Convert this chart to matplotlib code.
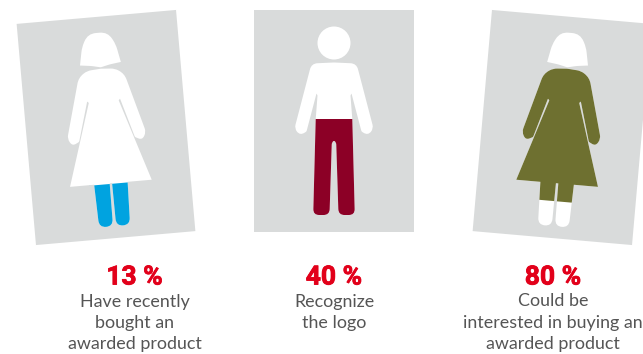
import numpy as np
import matplotlib
matplotlib.use("Agg")
import matplotlib.pyplot as plt
import matplotlib.patheffects as pe
from matplotlib.path import Path
from matplotlib.patches import PathPatch, Rectangle, Circle
from matplotlib.transforms import Affine2D

percents = ["13 %", "40 %", "80 %"]
captions = [
    "Have recently\nbought an\nawarded product",
    "Recognize\nthe logo",
    "Could be\ninterested in buying an\nawarded product",
]
fill_colors = ["#00A3E0", "#8C0026", "#6E7030"]
figures = ["woman", "man", "woman"]
# filled band of each figure: top, bottom and half width in panel units
fill_bands = [(56.6, 110, 22), (-1.2, 110, 23), (-60, 74, 70)]

panel_centers = [(106, 127.5), (334, 120.5), (562, 127.5)]
panel_angles = [-5, 0, 5]
caption_x = [134.5, 334, 553]

PANEL_W, PANEL_H = 160, 222
GREY = "#D9DBDB"
RED = "#E2001A"
TEXT = "#555555"


def rounded(points):
    # points are (x, y, corner radius), closed polygon with quadratic corners
    verts, codes = [], []
    n = len(points)
    for i, (x, y, r) in enumerate(points):
        p = np.array([x, y], float)
        prev = np.array(points[i - 1][:2], float)
        nxt = np.array(points[(i + 1) % n][:2], float)
        if r > 0:
            a = p + (prev - p) / np.linalg.norm(prev - p) * r
            b = p + (nxt - p) / np.linalg.norm(nxt - p) * r
            verts += [a, p, b]
            codes += [Path.LINETO, Path.CURVE3, Path.CURVE3]
        else:
            verts.append(p)
            codes.append(Path.LINETO)
    codes[0] = Path.MOVETO
    verts.append(verts[0])
    codes.append(Path.CLOSEPOLY)
    return Path(verts, codes)


def mirror(points):
    return points + [(-x, y, r) for x, y, r in reversed(points)]


# right half of each outline, from the neck down and back up the middle
woman_body = rounded(mirror([
    (0.5, -59, 0), (14, -58, 4), (23, -52, 6), (39.5, 8, 4), (35, 15.5, 4), (28, 12, 1),
    (16.5, -27.5, 0.3), (15, -26, 0.3), (41, 56, 0), (16.8, 56, 0), (15.5, 99, 7),
    (1.6, 99, 7), (1.2, 56, 0), (0.5, 56, 0),
]))
hair = rounded(mirror([
    (0.5, -60.5, 0), (9, -62.5, 2), (20.5, -64, 0), (17, -82, 5), (10, -95, 8), (0.5, -95, 0),
]))
man_body = rounded(mirror([
    (0.5, -58, 0), (22.5, -57, 6), (39.5, 8, 4), (34, 15, 5), (27.5, 11, 1),
    (17.5, -27, 0.3), (16.5, -25, 0.3), (18.3, -1.2, 0), (20.8, 94.5, 6), (4.5, 94.5, 6),
    (2.2, 22, 2), (0.5, 20.5, 0),
]))

fig = plt.figure(figsize=(6.43, 3.54), dpi=100)
ax = fig.add_axes([0, 0, 1, 1])
ax.set_xlim(0, 643)
ax.set_ylim(354, 0)
ax.axis("off")

for i in range(3):
    cx, cy = panel_centers[i]
    tr = Affine2D().rotate_deg(panel_angles[i]).translate(cx, cy) + ax.transData
    ax.add_patch(Rectangle((-PANEL_W / 2, -PANEL_H / 2), PANEL_W, PANEL_H,
                           fc=GREY, ec="none", transform=tr))

    if figures[i] == "woman":
        body = woman_body
        ax.add_patch(PathPatch(hair, fc="white", ec="none", transform=tr))
    else:
        body = man_body
        ax.add_patch(Circle((0, -77.5), 16.5, fc="white", ec="none", transform=tr))
    ax.add_patch(PathPatch(body, fc="white", ec="none", transform=tr))

    # coloured part of the body, cut off at the band limits
    top, bottom, half = fill_bands[i]
    filled = PathPatch(body, fc=fill_colors[i], ec="none", transform=tr)
    ax.add_patch(filled)
    band = Path([(-half, top), (half, top), (half, bottom), (-half, bottom), (-half, top)], closed=True)
    filled.set_clip_path(band, tr)

    ax.text(caption_x[i], 277.5, percents[i], color=RED, fontsize=19, fontweight="bold",
            family="Roboto", ha="center", va="center",
            path_effects=[pe.withStroke(linewidth=0.6, foreground=RED)])
    ax.text(caption_x[i], 293.5, captions[i], color=TEXT, fontsize=12.9, family="Lato",
            ha="center", va="top", linespacing=1.39)

fig.savefig("out.png", dpi=100)
